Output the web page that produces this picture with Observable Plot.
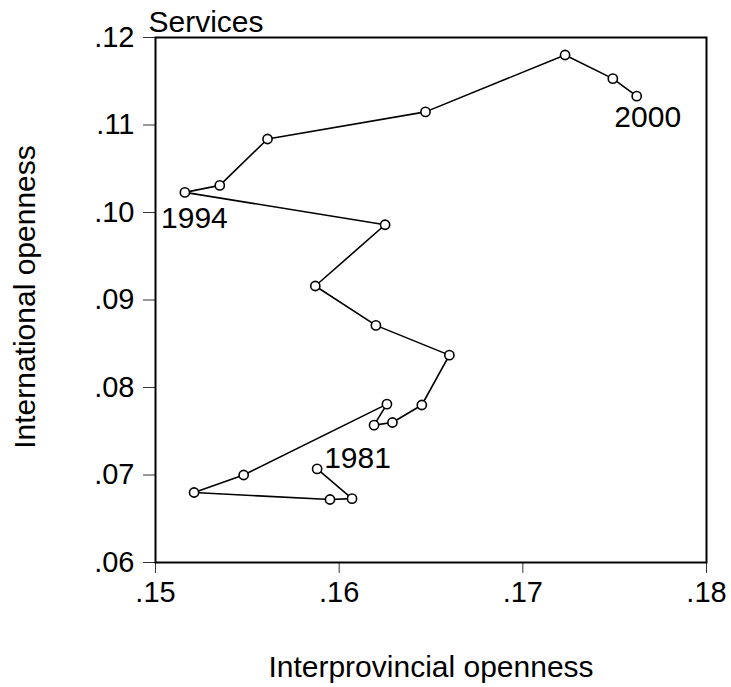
<!DOCTYPE html>
<html>
<head>
<meta charset="utf-8">
<script src="https://cdn.jsdelivr.net/npm/d3@7"></script>
<script src="https://cdn.jsdelivr.net/npm/@observablehq/plot@0.6"></script>
<style>
  html, body { margin: 0; padding: 0; background: #fff; }
  #chart svg { display: block; }
</style>
</head>
<body>
<div id="chart"></div>
<script>
const years = [1981, 1982, 1983, 1984, 1985, 1986, 1987, 1988, 1989, 1990,
               1991, 1992, 1993, 1994, 1995, 1996, 1997, 1998, 1999, 2000];
const interprovincial = [0.1588, 0.1607, 0.1595, 0.1521, 0.1548, 0.1626, 0.1619, 0.1629, 0.1645, 0.1660,
                         0.1620, 0.1587, 0.1625, 0.1516, 0.1535, 0.1561, 0.1647, 0.1723, 0.1749, 0.1762];
const international = [0.0707, 0.0673, 0.0672, 0.0680, 0.0700, 0.0781, 0.0757, 0.0760, 0.0780, 0.0837,
                       0.0871, 0.0916, 0.0986, 0.1023, 0.1031, 0.1084, 0.1115, 0.1180, 0.1153, 0.1133];
const xTicks = [0.15, 0.16, 0.17, 0.18];
const yTicks = [0.06, 0.07, 0.08, 0.09, 0.10, 0.11, 0.12];
const title = "Services";
const xLabel = "Interprovincial openness";
const yLabel = "International openness";

const data = years.map((yr, i) => ({year: yr, x: interprovincial[i], y: international[i]}));
const fmt = d => d.toFixed(2).replace(/^0/, "");
const pick = yr => data.filter(d => d.year === yr);
const yearText = d => String(d.year);

const chart = Plot.plot({
  width: 731,
  height: 687,
  marginLeft: 155,
  marginRight: 25,
  marginTop: 37,
  marginBottom: 125,
  style: {fontFamily: "'Liberation Sans', Arial, sans-serif", fontSize: "30px", color: "#000", background: "#fff"},
  x: {domain: [0.15, 0.18]},
  y: {domain: [0.06, 0.12]},
  marks: [
    Plot.axisX({ticks: xTicks, tickFormat: fmt, tickSize: 11, tickPadding: 8, fontSize: 29, label: null, stroke: "#333"}),
    Plot.axisY({ticks: yTicks, tickFormat: fmt, tickSize: 12, tickPadding: 9, fontSize: 29, label: null, stroke: "#333"}),
    Plot.frame({stroke: "#000", strokeWidth: 2}),
    Plot.line(data, {x: "x", y: "y", stroke: "#000", strokeWidth: 1.6}),
    Plot.dot(data, {x: "x", y: "y", r: 4.6, fill: "#fff", stroke: "#000", strokeWidth: 1.6}),
    Plot.text(pick(1981), {x: "x", y: "y", text: yearText, textAnchor: "start", lineAnchor: "middle", dx: 7, dy: -10.5, fontSize: 30}),
    Plot.text(pick(1994), {x: "x", y: "y", text: yearText, textAnchor: "middle", lineAnchor: "middle", dx: 9.5, dy: 26.5, fontSize: 30}),
    Plot.text(pick(2000), {x: "x", y: "y", text: yearText, textAnchor: "middle", lineAnchor: "middle", dx: 11, dy: 21.5, fontSize: 30}),
    Plot.text([title], {frameAnchor: "top-left", textAnchor: "start", lineAnchor: "middle", dx: -7, dy: -15.5, fontSize: 30}),
    Plot.text([xLabel], {frameAnchor: "bottom", textAnchor: "middle", lineAnchor: "middle", dy: 105, fontSize: 30}),
    Plot.text([yLabel], {frameAnchor: "left", textAnchor: "middle", lineAnchor: "middle", rotate: -90, dx: -130, dy: -3, fontSize: 30})
  ]
});
document.getElementById("chart").appendChild(chart);
</script>
</body>
</html>
